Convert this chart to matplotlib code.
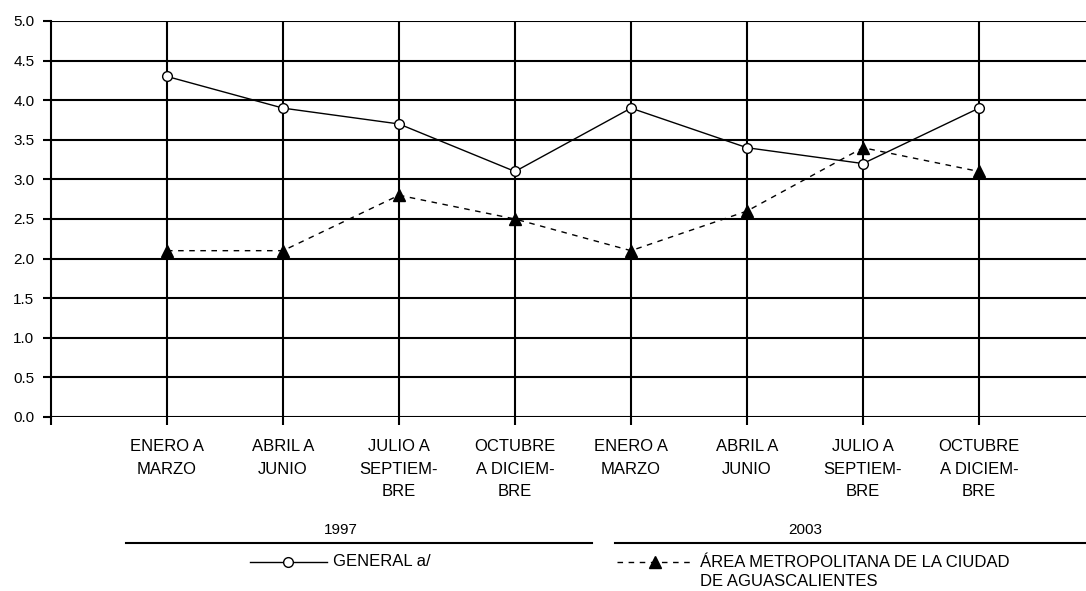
import matplotlib
matplotlib.use("Agg")
import matplotlib.pyplot as plt
from matplotlib.lines import Line2D

periodos = ["ENERO A\nMARZO", "ABRIL A\nJUNIO", "JULIO A\nSEPTIEM-\nBRE", "OCTUBRE\nA DICIEM-\nBRE",
            "ENERO A\nMARZO", "ABRIL A\nJUNIO", "JULIO A\nSEPTIEM-\nBRE", "OCTUBRE\nA DICIEM-\nBRE"]
anios = ["1997", "2003"]
general = [4.3, 3.9, 3.7, 3.1, 3.9, 3.4, 3.2, 3.9]
aguascalientes = [2.1, 2.1, 2.8, 2.5, 2.1, 2.6, 3.4, 3.1]
y_ticks = [0.0, 0.5, 1.0, 1.5, 2.0, 2.5, 3.0, 3.5, 4.0, 4.5, 5.0]

plt.rcParams['font.family'] = ['Liberation Sans', 'DejaVu Sans']
plt.rcParams['font.size'] = 11

W, H = 1086, 591
fig = plt.figure(figsize=(W / 100, H / 100), dpi=100)
# eje: x=0 en pixel 51, 116 px por periodo; y 0 en px 417, 5 en px 21
ax = fig.add_axes([51 / W, 1 - 417 / H, 9 * 116 / W, (417 - 21) / H])

x = list(range(1, len(periodos) + 1))
ax.plot(x, general, '-', color='black', lw=1.0, marker='o', ms=7,
        mfc='white', mec='black', mew=1.0, zorder=4)
ax.plot(x, aguascalientes, '--', color='black', lw=1.0, dashes=(4, 4),
        marker='^', ms=8, mfc='black', mec='black', zorder=4)

ax.set_xlim(0, 9)
ax.set_ylim(0, 5)
ax.set_yticks(y_ticks)
ax.set_yticklabels(["{:.1f}".format(v) for v in y_ticks])
ax.set_xticks(range(0, 9))
ax.set_xticklabels([""] + periodos, linespacing=1.62, va='top', fontsize=12)
ax.tick_params(axis='both', direction='out', length=6, width=1.5, color='black')
ax.tick_params(axis='x', pad=10)
ax.tick_params(axis='y', pad=6)

for yv in y_ticks:
    ax.axhline(yv, color='black', lw=1.5, zorder=2)
for xv in x:
    ax.axvline(xv, color='black', lw=1.5, zorder=2)

for s in ['top', 'right', 'bottom']:
    ax.spines[s].set_visible(False)
ax.spines['left'].set_linewidth(1.5)

# grupos de anios
def fy(py):
    return 1 - py / H

tr = ax.get_xaxis_transform()
ax.text(2.5, -113 / 396, anios[0], ha='center', va='center', transform=tr)
ax.text(6.5, -113 / 396, anios[1], ha='center', va='center', transform=tr)
for x0, x1 in [(0.65, 4.66), (4.86, 9.0)]:
    ax.add_line(Line2D([x0, x1], [-(543 - 417) / 396] * 2, color='black', lw=1.5,
                       transform=tr, clip_on=False))

# leyenda
fig.add_artist(Line2D([250 / W, 327 / W], [fy(562)] * 2, color='black', lw=1.0,
                      transform=fig.transFigure))
fig.add_artist(Line2D([288 / W], [fy(562)], marker='o', ms=7, mfc='white',
                      mec='black', mew=1.0, transform=fig.transFigure))
fig.text(333 / W, fy(562), "GENERAL a/", ha='left', va='center', fontsize=12)
fig.add_artist(Line2D([617 / W, 693 / W], [fy(562)] * 2, color='black', lw=1.0,
                      ls='--', dashes=(4, 4), transform=fig.transFigure))
fig.add_artist(Line2D([655 / W], [fy(562)], marker='^', ms=8, mfc='black',
                      mec='black', transform=fig.transFigure))
fig.text(700 / W, fy(572), "ÁREA METROPOLITANA DE LA CIUDAD\nDE AGUASCALIENTES",
         ha='left', va='center', linespacing=1.3, fontsize=12)

fig.savefig('out.png', dpi=100)
